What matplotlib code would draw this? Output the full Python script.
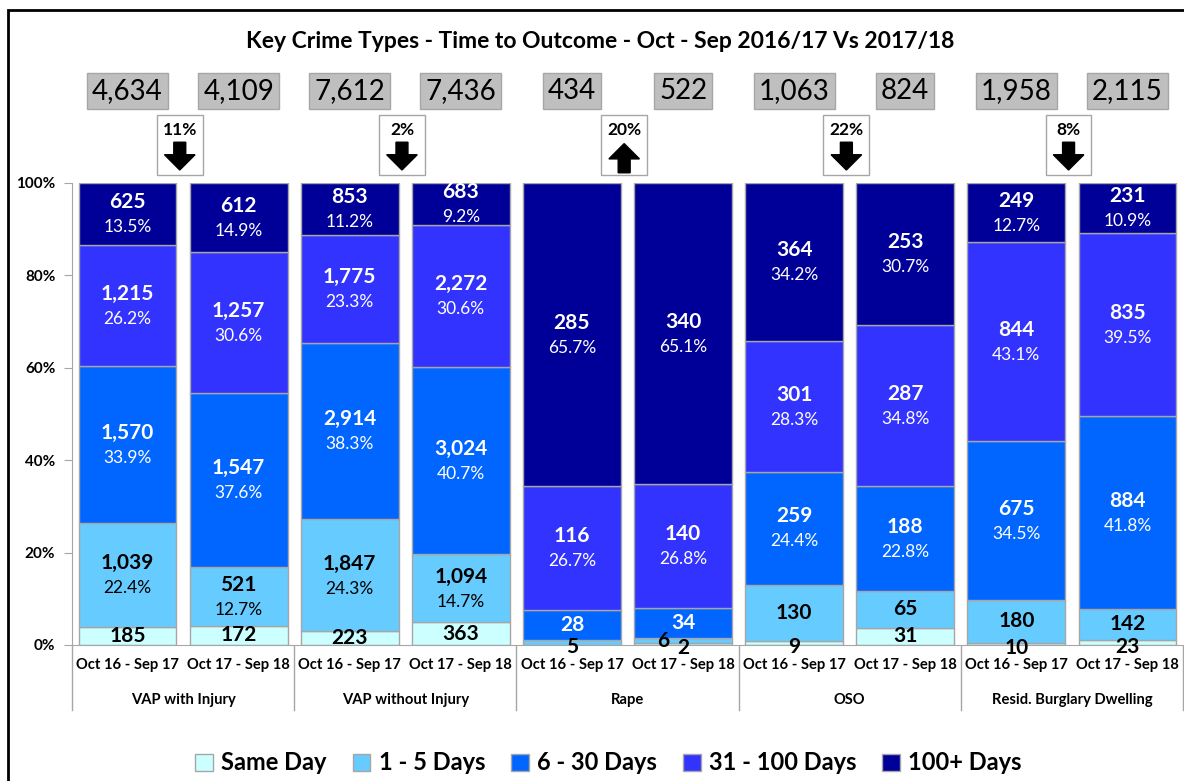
import numpy as np
import matplotlib
matplotlib.use("Agg")
from matplotlib import pyplot as plt
from matplotlib.patches import Rectangle, Polygon, Patch
from matplotlib.transforms import blended_transform_factory, Affine2D, ScaledTranslation

plt.rcParams['font.family'] = ['Lato', 'DejaVu Sans']

# ---- data ----
groups = ["VAP with Injury", "VAP without Injury", "Rape", "OSO", "Resid. Burglary Dwelling"]
periods = ["Oct 16 - Sep 17", "Oct 17 - Sep 18"]

series = ["Same Day", "1 - 5 Days", "6 - 30 Days", "31 - 100 Days", "100+ Days"]
same_day = [185, 172, 223, 363, 0, 2, 9, 31, 10, 23]
days_1_5 = [1039, 521, 1847, 1094, 5, 6, 130, 65, 180, 142]
days_6_30 = [1570, 1547, 2914, 3024, 28, 34, 259, 188, 675, 884]
days_31_100 = [1215, 1257, 1775, 2272, 116, 140, 301, 287, 844, 835]
days_100p = [625, 612, 853, 683, 285, 340, 364, 253, 249, 231]

# which bars show a percentage under the count, per series
show_pct = [
    [0] * 10,
    [1, 1, 1, 1, 0, 0, 0, 0, 0, 0],
    [1, 1, 1, 1, 0, 0, 1, 1, 1, 1],
    [1] * 10,
    [1] * 10,
]

change_pct = ["11%", "2%", "20%", "22%", "8%"]
change_dir = ["down", "down", "up", "down", "down"]

colors = ["#CCFFFF", "#66CCFF", "#0066FF", "#3333FF", "#000099"]
text_cols = ["black", "black", "white", "white", "white"]

counts = np.array([same_day, days_1_5, days_6_30, days_31_100, days_100p], dtype=float)
totals = counts.sum(axis=0)
shares = counts / totals

fig = plt.figure(figsize=(11.84, 7.81), dpi=100)
ax = fig.add_axes([72 / 1184, 136 / 781, 1111 / 1184, 462 / 781])

x = np.arange(10)
bottom = np.zeros(10)
for s in range(5):
    ax.bar(x, shares[s], 0.88, bottom=bottom, color=colors[s],
           edgecolor="#A6A6A6", linewidth=1.0, zorder=2)
    for i in range(10):
        if counts[s, i] == 0:
            continue
        cy = bottom[i] + shares[s, i] / 2
        dx, dy = 0, 0
        # tiny segments: nudge labels so they don't collide
        if shares[s, i] < 0.02:
            if s > 0 and 0 < counts[s - 1, i] and shares[s - 1, i] < 0.02:
                dx = -14
            else:
                dy = -3
        if show_pct[s][i]:
            ax.annotate(f"{int(counts[s, i]):,}", (x[i], cy), xytext=(dx, 8.5),
                        textcoords="offset points", ha="center", va="center",
                        fontsize=15, fontweight="bold", color=text_cols[s], zorder=3)
            ax.annotate(f"{shares[s, i] * 100:.1f}%", (x[i], cy), xytext=(dx, -9.5),
                        textcoords="offset points", ha="center", va="center",
                        fontsize=12.5, color=text_cols[s], zorder=3)
        else:
            ax.annotate(f"{int(counts[s, i]):,}", (x[i], cy), xytext=(dx, dy),
                        textcoords="offset points", ha="center", va="center",
                        fontsize=15, fontweight="bold", color=text_cols[s], zorder=3)
    bottom += shares[s]

ax.set_xlim(-0.5, 9.5)
ax.set_ylim(0, 1)
ax.set_yticks(np.arange(0, 1.01, 0.2))
ax.set_yticklabels([f"{int(v * 100)}%" for v in np.arange(0, 1.01, 0.2)],
                   fontsize=11, fontweight="bold")
ax.tick_params(axis="y", length=6, color="#A6A6A6", pad=6)
ax.set_xticks([])
for side in ["top", "right"]:
    ax.spines[side].set_visible(False)
ax.spines["left"].set_color("#A6A6A6")
ax.spines["bottom"].set_color("#A6A6A6")

trans = blended_transform_factory(ax.transData, fig.transFigure)

# category labels
for i in range(10):
    ax.text(x[i], (781 - 665) / 781, periods[i % 2], transform=trans,
            ha="center", va="center", fontsize=10.6, fontweight="bold")
for g in range(5):
    ax.text(2 * g + 0.5, (781 - 700) / 781, groups[g], transform=trans,
            ha="center", va="center", fontsize=10.6, fontweight="bold")
for b in np.arange(-0.5, 10, 2):
    ax.plot([b, b], [(781 - 646) / 781, (781 - 710) / 781], transform=trans,
            color="#A6A6A6", lw=1, clip_on=False)

# totals boxes
for i in range(10):
    ax.text(x[i], (781 - 91) / 781, f"{int(totals[i]):,}", transform=trans,
            ha="center", va="center", fontsize=20,
            bbox=dict(boxstyle="square,pad=0.18", fc="#BFBFBF", ec="#A6A6A6", lw=1))

# change boxes with arrows (geometry in points around an anchor)
for g in range(5):
    anchor = ScaledTranslation(2 * g + 0.47, (781 - 145) / 781, trans)
    loc = Affine2D().scale(1 / 72) + fig.dpi_scale_trans + anchor
    fig.patches.append(Rectangle((-16.5, -21.5), 33, 43, transform=loc,
                                 fc="white", ec="#A6A6A6", lw=1))
    fig.text(0, 11, change_pct[g], transform=loc, ha="center", va="center",
             fontsize=12.5, fontweight="bold")
    if change_dir[g] == "down":
        pts = [(-4.3, 2), (4.3, 2), (4.3, -7), (11, -7), (0, -18), (-11, -7), (-4.3, -7)]
    else:
        pts = [(-4.3, -20), (4.3, -20), (4.3, -10), (11, -10), (0, 1), (-11, -10), (-4.3, -10)]
    fig.patches.append(Polygon(pts, closed=True, transform=loc, fc="black", ec="black"))

fig.text(0.507, (781 - 42) / 781,
         "Key Crime Types - Time to Outcome - Oct - Sep 2016/17 Vs 2017/18",
         ha="center", va="center", fontsize=16.5, fontweight="bold")

handles = [Patch(fc=c, ec="#A6A6A6", lw=1) for c in colors]
fig.legend(handles, series, loc="center", bbox_to_anchor=(0.514, (781 - 763) / 781),
           ncol=5, frameon=False, handlelength=0.75, handleheight=0.75,
           handletextpad=0.35, columnspacing=1.1,
           prop=dict(size=17, weight="bold"))

# outer chart border
fig.patches.append(Rectangle((8 / 1184, -0.05), 1.1, (781 - 10) / 781 + 0.05,
                             transform=fig.transFigure, fill=False, ec="black", lw=2))

fig.savefig("out.png", dpi=100)
